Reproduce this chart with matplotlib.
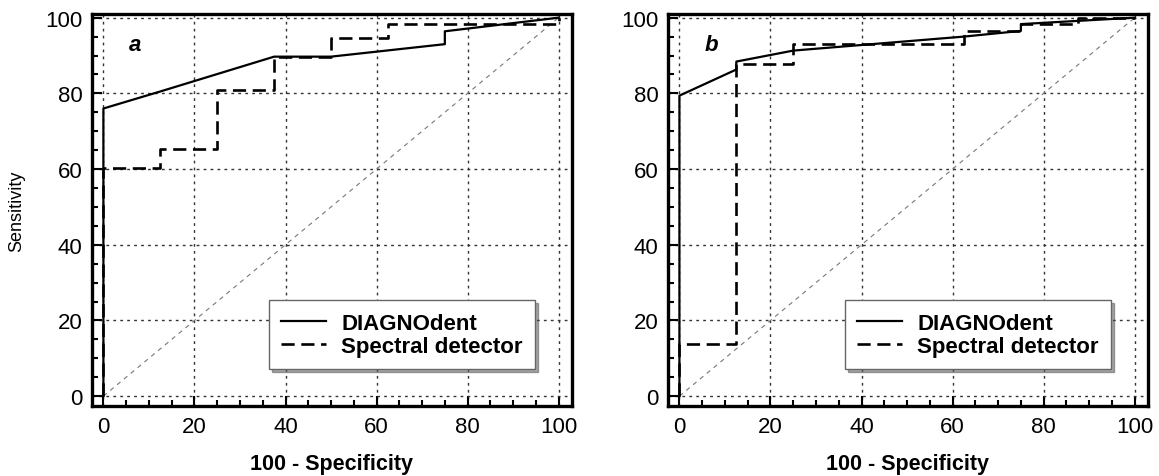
import matplotlib
matplotlib.use('Agg')
import matplotlib.pyplot as plt
from matplotlib.ticker import MultipleLocator

plt.rcParams['font.family'] = ['Liberation Sans', 'DejaVu Sans']

############# data ###############################################################

# panel a
diag_a_x = [0, 0, 12.5, 37.5, 50, 75, 75, 100]
diag_a_y = [0, 76, 80.5, 89.7, 89.7, 93, 96.4, 100]
spec_a_x = [0, 0, 12.5, 12.5, 25, 25, 37.5, 37.5, 50, 50, 62.5, 62.5, 100, 100]
spec_a_y = [0, 60.2, 60.2, 65.3, 65.3, 81, 81, 89.7, 89.7, 94.6, 94.6, 98.4, 98.4, 100]

# panel b
diag_b_x = [0, 0, 12.5, 12.5, 25, 62.5, 75, 75, 100]
diag_b_y = [0, 79.4, 86.3, 88.4, 91.3, 95, 96.5, 98.3, 100]
spec_b_x = [0, 0, 12.5, 12.5, 25, 25, 62.5, 62.5, 75, 75, 87.5, 87.5, 100]
spec_b_y = [0, 13.8, 13.8, 87.8, 87.8, 93, 93, 96.5, 96.5, 98.3, 98.3, 100, 100]

panel_labels = ['a', 'b']
series_names = ['DIAGNOdent', 'Spectral detector']
ticks = [0, 20, 40, 60, 80, 100]

############# plotting ###########################################################

def draw_panel(ax, dx, dy, sx, sy, tag, ylabel):
    ax.plot([0, 100], [0, 100], color='#777777', lw=0.8, ls=(0, (4, 4)))
    ax.plot(dx, dy, color='black', lw=1.6, label=series_names[0])
    ax.plot(sx, sy, color='black', lw=1.9, ls=(0, (5, 2.5)), label=series_names[1])
    ax.set_xlim(-2.5, 102.9)
    ax.set_ylim(-2.6, 101)
    ax.set_xticks(ticks)
    ax.set_yticks(ticks)
    ax.xaxis.set_minor_locator(MultipleLocator(5))
    ax.yaxis.set_minor_locator(MultipleLocator(5))
    ax.tick_params(which='major', direction='in', length=7, width=1.5, labelsize=16, pad=7,
                   top=False, right=False)
    ax.tick_params(which='minor', direction='in', length=4, width=1.5, top=False, right=False)
    ax.grid(True, which='major', color='#333333', lw=1.0, ls=(0, (2, 3)))
    for sp in ax.spines.values():
        sp.set_linewidth(2.4)
    ax.set_xlabel('100 - Specificity', fontsize=15.5, fontweight='bold', labelpad=12)
    if ylabel:
        ax.set_ylabel('Sensitivity', fontsize=13, labelpad=14)
    ax.text(5.5, 93, tag, fontsize=16, fontweight='bold', style='italic', ha='left', va='center')
    leg = ax.legend(loc='lower right', bbox_to_anchor=(0.923, 0.094), borderaxespad=0,
                    fontsize=16, fancybox=False, shadow=True, framealpha=1,
                    edgecolor='#666666', handlelength=2.0, handletextpad=0.7,
                    borderpad=0.55, labelspacing=0.1)
    for t in leg.get_texts():
        t.set_fontweight('bold')
    leg.get_frame().set_linewidth(1.0)

fig = plt.figure(figsize=(11.59, 4.77), dpi=100)
ax1 = fig.add_axes([0.0794, 0.1468, 0.414, 0.822])
ax2 = fig.add_axes([0.5764, 0.1468, 0.414, 0.822])

draw_panel(ax1, diag_a_x, diag_a_y, spec_a_x, spec_a_y, panel_labels[0], True)
draw_panel(ax2, diag_b_x, diag_b_y, spec_b_x, spec_b_y, panel_labels[1], False)

fig.savefig('out.png', dpi=100)
